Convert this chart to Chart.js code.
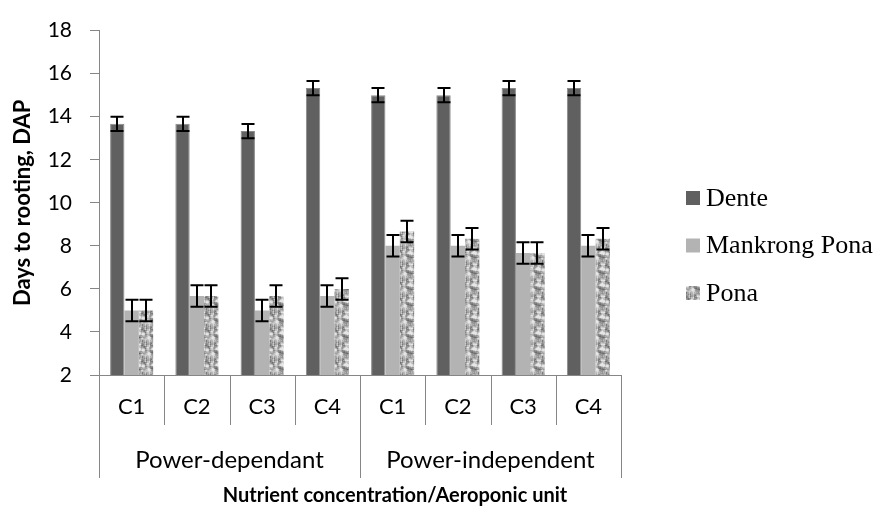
<!DOCTYPE html>
<html lang="en">
<head>
    <meta charset="UTF-8">
    <title>Days to rooting</title>
    <script src="https://cdn.jsdelivr.net/npm/chart.js"></script>
    <style>
        body { margin: 0; background: #ffffff; }
        .chart-container { width: 879px; height: 518px; }
    </style>
</head>
<body>
<div class="chart-container"><canvas id="rootChart"></canvas></div>
<script>
    // data
    const categories = ['C1', 'C2', 'C3', 'C4', 'C1', 'C2', 'C3', 'C4'];
    const groups = ['Power-dependant', 'Power-independent'];
    const seriesNames = ['Dente', 'Mankrong Pona', 'Pona'];
    const dente = [13.67, 13.67, 13.33, 15.33, 15, 15, 15.33, 15.33];
    const mankrong = [5, 5.67, 5, 5.67, 8, 8, 7.67, 8];
    const pona = [5, 5.67, 5.67, 6, 8.67, 8.33, 7.67, 8.33];
    const denteErr = [0.33, 0.33, 0.33, 0.33, 0.33, 0.33, 0.33, 0.33];
    const mankrongErr = [0.5, 0.5, 0.5, 0.5, 0.5, 0.5, 0.5, 0.5];
    const ponaErr = [0.5, 0.5, 0.5, 0.5, 0.5, 0.5, 0.5, 0.5];
    const yTicks = [2, 4, 6, 8, 10, 12, 14, 16, 18];

    const axisGrey = '#868686';
    const sansFont = 'Lato, "Open Sans", sans-serif';

    // mottled grey texture for the Pona bars (hashed cells, then blurred into blobs)
    function mottledPattern() {
        const size = 16;
        const raw = [];
        for (let y = 0; y < size; y++) {
            for (let x = 0; x < size; x++) {
                let h = (Math.imul(x + 1, 374761393) + Math.imul(y + 7, 668265263)) | 0;
                h = Math.imul(h ^ (h >>> 13), 1274126177);
                h = h ^ (h >>> 16);
                raw.push((h & 255) / 255);
            }
        }
        const c = document.createElement('canvas');
        c.width = c.height = size;
        const g = c.getContext('2d');
        const img = g.createImageData(size, size);
        for (let y = 0; y < size; y++) {
            for (let x = 0; x < size; x++) {
                let s = 0;
                for (let dy = -1; dy <= 1; dy++) {
                    for (let dx = -1; dx <= 1; dx++) {
                        s += raw[((y + dy + size) % size) * size + ((x + dx + size) % size)];
                    }
                }
                s /= 9;
                const v = Math.max(80, Math.min(230, Math.round(170 + (s - 0.5) * 380)));
                const p = (y * size + x) * 4;
                img.data[p] = img.data[p + 1] = img.data[p + 2] = v;
                img.data[p + 3] = 255;
            }
        }
        g.putImageData(img, 0, 0);
        return g.createPattern(c, 'repeat');
    }

    const decorPlugin = {
        id: 'decor',
        afterDatasetsDraw(chart) {
            // error bars
            const ctx = chart.ctx;
            const yScale = chart.scales.y;
            ctx.save();
            ctx.strokeStyle = '#000000';
            ctx.lineWidth = 2;
            chart.data.datasets.forEach((ds, di) => {
                const meta = chart.getDatasetMeta(di);
                meta.data.forEach((bar, i) => {
                    const v = ds.data[i];
                    const e = ds.errors[i];
                    const top = yScale.getPixelForValue(v + e);
                    const bot = yScale.getPixelForValue(v - e);
                    const x = Math.round(bar.x);
                    ctx.beginPath();
                    ctx.moveTo(x, top); ctx.lineTo(x, bot);
                    ctx.moveTo(x - 6.5, top); ctx.lineTo(x + 6.5, top);
                    ctx.moveTo(x - 6.5, bot); ctx.lineTo(x + 6.5, bot);
                    ctx.stroke();
                });
            });
            ctx.restore();
        },
        afterDraw(chart) {
            const ctx = chart.ctx;
            const xs = chart.scales.x;
            const n = categories.length;
            const step = (xs.right - xs.left) / n;
            ctx.save();
            // category separators below the axis
            ctx.strokeStyle = axisGrey;
            ctx.lineWidth = 1;
            for (let i = 0; i <= n; i++) {
                const x = Math.round(xs.left + i * step) + 0.5;
                const len = (i % 4 === 0) ? 103 : 50;
                ctx.beginPath();
                ctx.moveTo(x, xs.top);
                ctx.lineTo(x, xs.top + len);
                ctx.stroke();
            }
            // group labels
            ctx.fillStyle = '#000000';
            ctx.textAlign = 'center';
            ctx.textBaseline = 'middle';
            ctx.font = '24px ' + sansFont;
            groups.forEach((g, gi) => {
                const cx = xs.left + (gi * 4 + 2) * step;
                ctx.fillText(g, cx, xs.top + 85);
            });
            // axis title
            ctx.font = 'bold 20px ' + sansFont;
            ctx.fillText('Nutrient concentration/Aeroponic unit', xs.left + 296, xs.top + 121);

            // legend
            const lx = chart.chartArea.right + 65;
            ctx.font = '26px "Liberation Serif", "Times New Roman", serif';
            ctx.textAlign = 'left';
            chart.data.datasets.forEach((ds, di) => {
                const cy = 198 + di * 47.5;
                ctx.fillStyle = ds.backgroundColor;
                ctx.fillRect(lx, cy - 7, 14, 14);
                ctx.fillStyle = '#000000';
                ctx.fillText(ds.label, lx + 20, cy + 1);
            });
            ctx.restore();
        }
    };

    const ctx = document.getElementById('rootChart').getContext('2d');
    new Chart(ctx, {
        type: 'bar',
        data: {
            labels: categories,
            datasets: [
                { label: seriesNames[0], data: dente, errors: denteErr, backgroundColor: '#606060', borderColor: '#8a8a8a', borderWidth: 1 },
                { label: seriesNames[1], data: mankrong, errors: mankrongErr, backgroundColor: '#b3b3b3' },
                { label: seriesNames[2], data: pona, errors: ponaErr, backgroundColor: mottledPattern() }
            ]
        },
        options: {
            responsive: true,
            maintainAspectRatio: false,
            animation: false,
            layout: { padding: { top: 24, right: 258, left: 0, bottom: 0 } },
            datasets: { bar: { categoryPercentage: 0.66, barPercentage: 1 } },
            plugins: {
                legend: { display: false },
                tooltip: { enabled: false }
            },
            scales: {
                x: {
                    afterFit(scale) { scale.height = 143; },
                    grid: { display: true, drawOnChartArea: false, drawTicks: false },
                    border: { display: true, color: axisGrey, width: 1 },
                    ticks: { color: '#000000', padding: 19, font: { family: sansFont, size: 22 } }
                },
                y: {
                    min: 2,
                    max: 18,
                    afterFit(scale) { scale.width = 99; },
                    afterBuildTicks(scale) { scale.ticks = yTicks.map(v => ({ value: v })); },
                    grid: { drawOnChartArea: false, tickLength: 9, color: axisGrey },
                    border: { display: true, color: axisGrey, width: 1 },
                    ticks: { color: '#000000', padding: 18, font: { family: sansFont, size: 21 } },
                    title: {
                        display: true,
                        text: 'Days to rooting, DAP',
                        color: '#000000',
                        padding: { top: 10, bottom: 0 },
                        font: { family: sansFont, size: 22, weight: 'bold' }
                    }
                }
            }
        },
        plugins: [decorPlugin]
    });
</script>
</body>
</html>
